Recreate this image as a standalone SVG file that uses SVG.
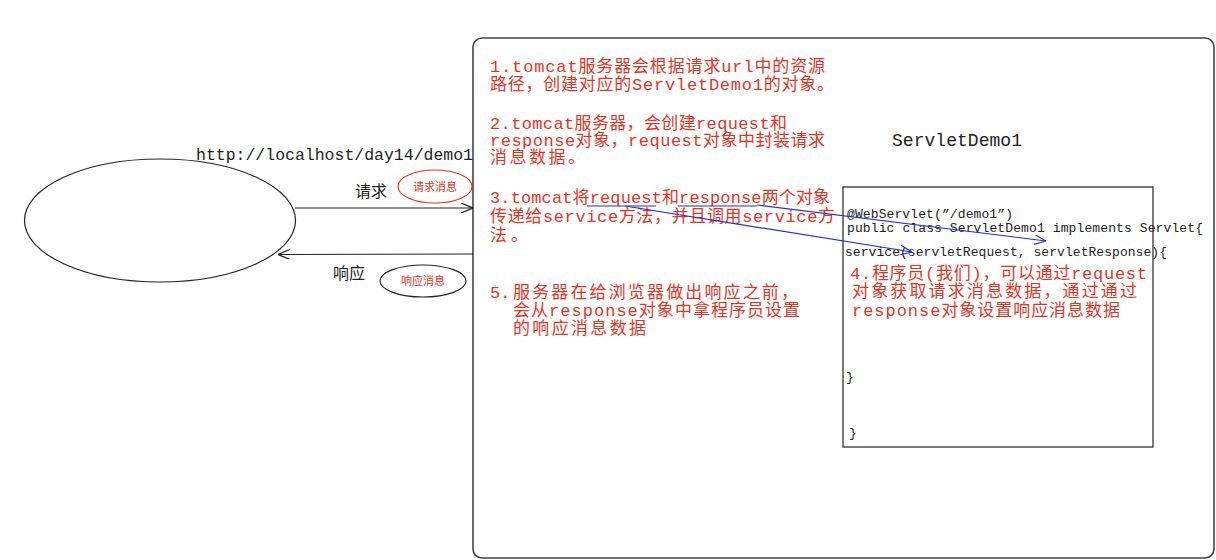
<svg xmlns="http://www.w3.org/2000/svg" width="1216" height="560" viewBox="0 0 1216 560">
<style>
.red{font-family:"Liberation Mono","Noto Sans CJK SC",monospace;font-size:17px;fill:#e8331f}
.code{font-family:"Liberation Mono","Noto Sans CJK SC",monospace;font-size:13px;fill:#222}
.lbl{font-family:"Noto Sans CJK SC",sans-serif;font-size:16px;fill:#222}
.small{font-family:"Noto Sans CJK SC",sans-serif;font-size:11px;fill:#e8331f}
.blk{fill:none;stroke:#222;stroke-width:1.2}
.blue{fill:none;stroke:#2233cc;stroke-width:1.2}
</style>
<defs>
<marker id="open" viewBox="0 0 12 10" refX="12" refY="5" markerWidth="12" markerHeight="10" markerUnits="userSpaceOnUse" orient="auto">
<path d="M0,0 L12,5 L0,10" fill="none" stroke="#222" stroke-width="1.2"/>
</marker>
<marker id="openb" viewBox="0 0 12 10" refX="12" refY="5" markerWidth="12" markerHeight="10" markerUnits="userSpaceOnUse" orient="auto">
<path d="M0,0 L12,5 L0,10" fill="none" stroke="#2233cc" stroke-width="1.2"/>
</marker>
</defs>
<rect width="1216" height="560" fill="#ffffff"/>
<g id="server">
<rect x="473" y="38" width="741" height="520" rx="9" fill="none" stroke="#444" stroke-width="1.6"/>
<text class="red" x="490" y="72" textLength="335" lengthAdjust="spacing">1.tomcat服务器会根据请求url中的资源</text>
<text class="red" x="490" y="90" textLength="344" lengthAdjust="spacing">路径，创建对应的ServletDemo1的对象。</text>
<text class="red" x="490" y="129" textLength="297" lengthAdjust="spacing">2.tomcat服务器，会创建request和</text>
<text class="red" x="490" y="146" textLength="335" lengthAdjust="spacing">response对象，request对象中封装请求</text>
<text class="red" x="490" y="163" textLength="95" lengthAdjust="spacing">消息数据。</text>
<text class="red" x="490" y="203" textLength="340" lengthAdjust="spacing">3.tomcat将request和response两个对象</text>
<text class="red" x="490" y="222" textLength="345" lengthAdjust="spacing">传递给service方法，并且调用service方</text>
<text class="red" x="490" y="241" textLength="38" lengthAdjust="spacing">法。</text>
<text class="red" x="490" y="298">5.</text>
<text class="red" x="513" y="298" textLength="285" lengthAdjust="spacing">服务器在给浏览器做出响应之前，</text>
<text class="red" x="513" y="316" textLength="287" lengthAdjust="spacing">会从response对象中拿程序员设置</text>
<text class="red" x="513" y="334" textLength="133" lengthAdjust="spacing">的响应消息数据</text>
</g>
<g id="servletdemo1">
<text x="892" y="146" style="font-family:'Liberation Mono',monospace;font-size:18px;fill:#222" textLength="130" lengthAdjust="spacing">ServletDemo1</text>
<rect x="843" y="187" width="310" height="260" fill="none" stroke="#444" stroke-width="1.4"/>
<text class="code" x="847" y="218" textLength="166" lengthAdjust="spacing">@WebServlet(”/demo1”)</text>
<text class="code" x="847" y="232" textLength="356" lengthAdjust="spacing">public class ServletDemo1 implements Servlet{</text>
<text class="code" x="845" y="256" textLength="322" lengthAdjust="spacing">service(servletRequest, servletResponse){</text>
<text class="red" x="850" y="279" textLength="297" lengthAdjust="spacing">4.程序员(我们)，可以通过request</text>
<text class="red" x="852" y="297" textLength="285" lengthAdjust="spacing">对象获取请求消息数据，通过通过</text>
<text class="red" x="852" y="316" textLength="268" lengthAdjust="spacing">response对象设置响应消息数据</text>
<text class="code" x="846" y="381">}</text>
<text class="code" x="849" y="437">}</text>
</g>
<g id="browser">
<ellipse cx="160" cy="220.5" rx="135.5" ry="61.5" class="blk"/>
</g>
<g id="req-tag">
<ellipse cx="435" cy="186.5" rx="37" ry="16.5" fill="none" stroke="#e8331f" stroke-width="1.1"/>
<text class="small" x="435" y="190.5" text-anchor="middle">请求消息</text>
</g>
<g id="resp-tag">
<ellipse cx="423" cy="281" rx="43" ry="16" class="blk"/>
<text class="small" x="423" y="285" text-anchor="middle">响应消息</text>
</g>
<g id="connectors">
<line x1="295" y1="208" x2="473" y2="208" class="blk" marker-end="url(#open)"/>
<line x1="473" y1="254" x2="278" y2="254.5" class="blk" marker-end="url(#open)"/>
<line x1="587" y1="206" x2="656" y2="206" class="blue"/>
<line x1="678" y1="206" x2="757" y2="206" class="blue"/>
<line x1="625" y1="206" x2="912" y2="252" class="blue" marker-end="url(#openb)"/>
<line x1="757" y1="205" x2="1046" y2="241" class="blue" marker-end="url(#openb)"/>
<text x="196" y="160" style="font-family:'Liberation Mono',monospace;font-size:16.5px;fill:#222" textLength="277" lengthAdjust="spacing">http://localhost/day14/demo1</text>
<text class="lbl" x="355" y="197">请求</text>
<text class="lbl" x="333" y="279">响应</text>
</g>
</svg>
